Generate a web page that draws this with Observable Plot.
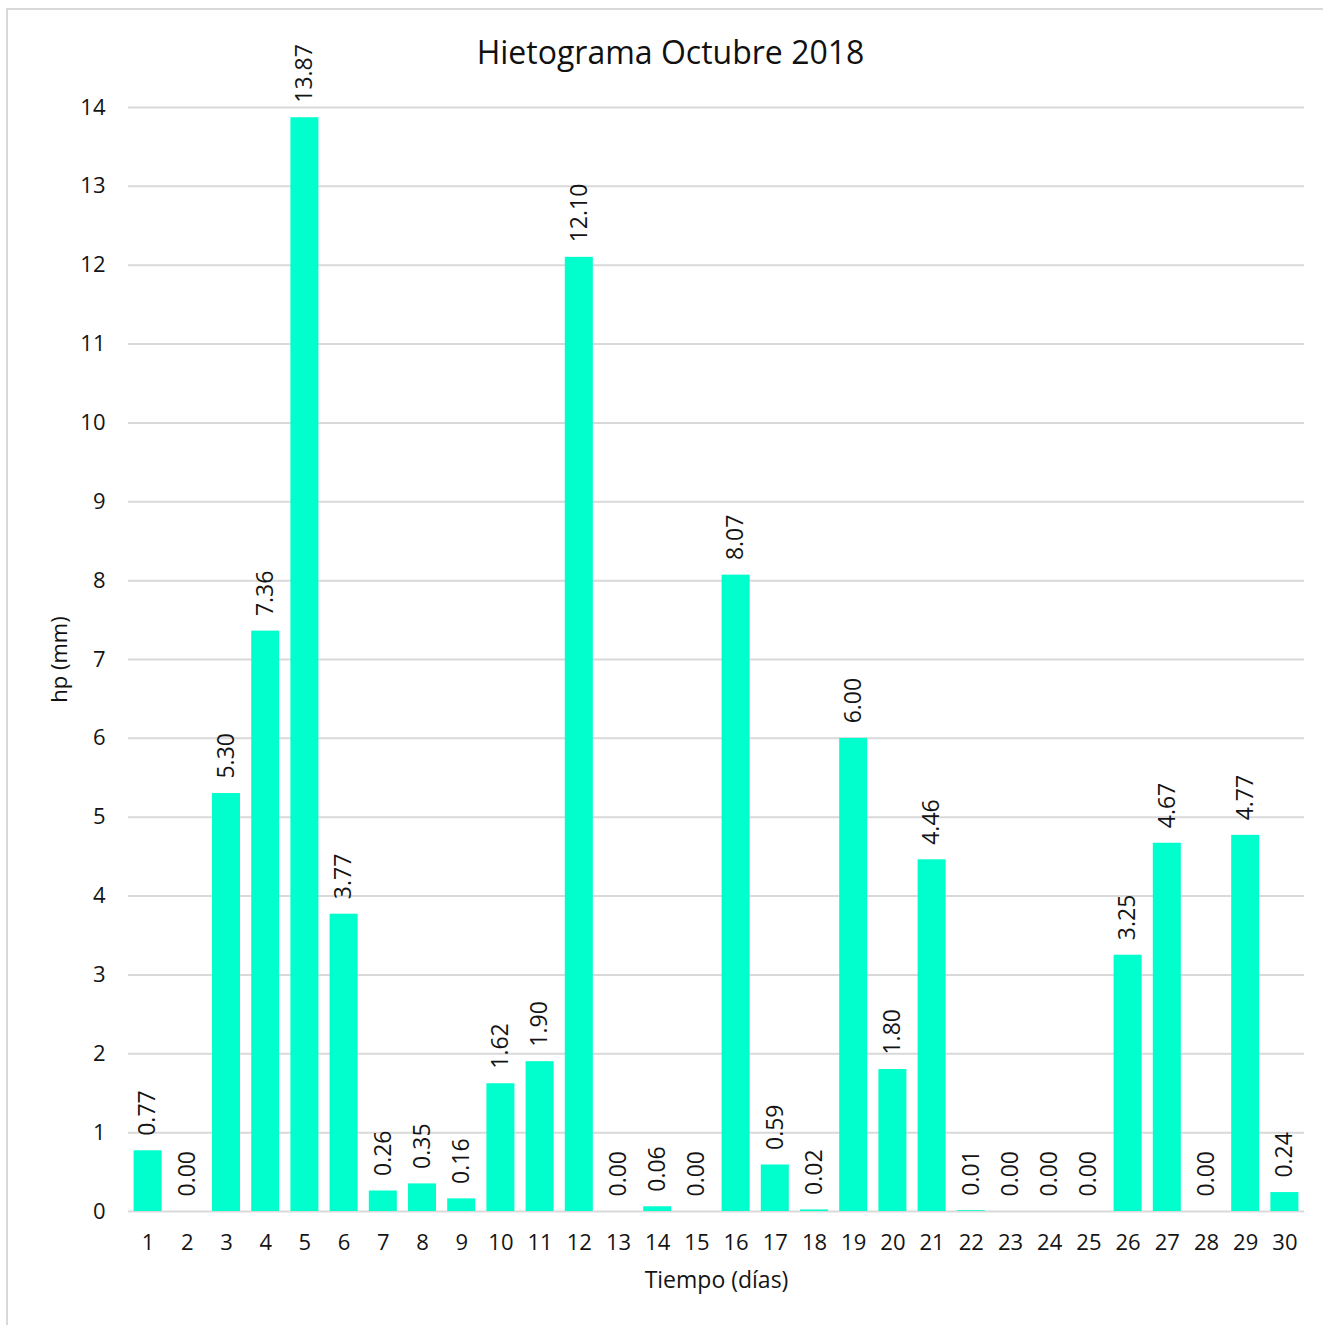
<!DOCTYPE html>
<html>
<head>
<meta charset="utf-8">
<script src="https://cdn.jsdelivr.net/npm/d3@7"></script>
<script src="https://cdn.jsdelivr.net/npm/@observablehq/plot@0.6"></script>
<style>
  html, body { margin: 0; padding: 0; background: #fff; }
  #wrap { position: relative; width: 1323px; height: 1325px; overflow: hidden; }
  #border { position: absolute; left: 6px; top: 8px; width: 1330px; height: 1330px;
            border-left: 2px solid #d9d9d9; border-top: 2px solid #d9d9d9; box-sizing: border-box; }
  #chart { position: absolute; left: 0; top: 0; }
</style>
</head>
<body>
<div id="wrap"><div id="border"></div><div id="chart"></div></div>
<script>
const days = [1,2,3,4,5,6,7,8,9,10,11,12,13,14,15,16,17,18,19,20,21,22,23,24,25,26,27,28,29,30];
const hp = [0.77,0.00,5.30,7.36,13.87,3.77,0.26,0.35,0.16,1.62,1.90,12.10,0.00,0.06,0.00,8.07,0.59,0.02,6.00,1.80,4.46,0.01,0.00,0.00,0.00,3.25,4.67,0.00,4.77,0.24];
const yTicks = [0,1,2,3,4,5,6,7,8,9,10,11,12,13,14];
const title = "Hietograma Octubre 2018";
const xLabel = "Tiempo (días)";
const yLabel = "hp (mm)";

const data = days.map((d, i) => ({day: d, v: hp[i]}));
const font = "'Open Sans', sans-serif";
const textColor = "#141414";

const chart = Plot.plot({
  width: 1323,
  height: 1325,
  marginLeft: 128,
  marginRight: 19,
  marginTop: 107,
  marginBottom: 114,
  style: {fontFamily: font, fontSize: "22px", color: textColor, background: "transparent"},
  x: {domain: days, paddingInner: 0.2857, paddingOuter: 0.1429, round: false, label: null},
  y: {domain: [0, 14], label: null},
  marks: [
    Plot.ruleY(yTicks, {stroke: "#d9d9d9", strokeWidth: 2}),
    Plot.barY(data, {x: "day", y: "v", fill: "#00FFCC"}),
    Plot.axisX({tickSize: 0, tickPadding: 23, fontSize: 22, fill: textColor}),
    Plot.axisY({ticks: yTicks, tickSize: 0, tickPadding: 23, fontSize: 22, fill: textColor}),
    Plot.text(data, {x: "day", y: "v", text: d => d.v.toFixed(2), rotate: -90, textAnchor: "start",
      lineAnchor: "middle", dy: -15, fontSize: 23, fill: textColor}),
    Plot.text([title], {frameAnchor: "top", textAnchor: "middle", dx: -46, dy: -54, lineAnchor: "middle", fontSize: 32, fill: "#111"}),
    Plot.text([xLabel], {frameAnchor: "bottom", textAnchor: "middle", dy: 69, lineAnchor: "middle", fontSize: 23, fill: textColor}),
    Plot.text([yLabel], {frameAnchor: "left", textAnchor: "middle", dx: -69, rotate: -90, lineAnchor: "middle", fontSize: 22, fill: "#111"})
  ]
});
document.getElementById("chart").appendChild(chart);
</script>
</body>
</html>
